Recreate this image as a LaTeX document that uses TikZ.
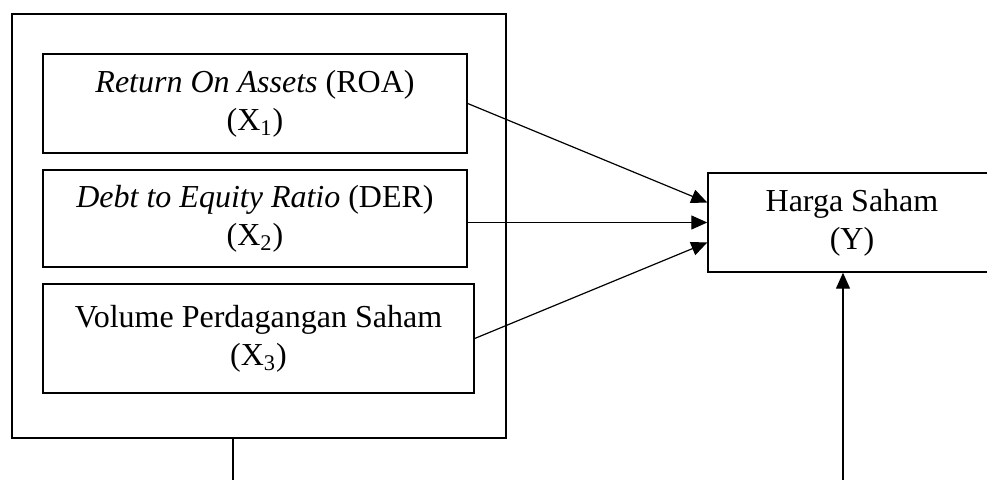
\documentclass[tikz,border=0pt]{standalone}
\usepackage{fontspec}
\setmainfont{Liberation Serif}
\usetikzlibrary{arrows.meta}
\def\boxfont{\fontsize{16}{19}\selectfont}
\tikzstyle{varbox}=[draw,rectangle,line width=0.7pt,align=center,
                  font=\boxfont,inner sep=0pt]
\tikzstyle{groupbox}=[draw,rectangle,line width=0.9pt,inner sep=0pt]
\tikzstyle{pedge}=[line width=0.6pt,-{Triangle[length=8pt,width=7pt]}]
\tikzstyle{pline}=[line width=0.6pt]

\begin{document}
\begin{tikzpicture}[x=0.5pt,y=-0.5pt]
  \useasboundingbox (0,0) rectangle (987,480);
  % Place independent variables
  \node[groupbox,minimum width=247pt,minimum height=212pt] (group) at (259,226) {};
  \node[varbox,minimum width=212pt,minimum height=49.5pt] (roa) at (255,103.5)
    {\textit{Return On Assets} (ROA)\\(X\textsubscript{1})};
  \node[varbox,minimum width=212pt,minimum height=48.5pt] (der) at (255,218.5)
    {\textit{Debt to Equity Ratio} (DER)\\(X\textsubscript{2})};
  \node[varbox,minimum width=215.5pt,minimum height=54.5pt] (vps) at (258.5,338.5)
    {Volume Perdagangan Saham\\(X\textsubscript{3})};

  % Place dependent variable
  \node[varbox,minimum width=144pt,minimum height=49.5pt] (harga) at (852,222.5)
    {Harga Saham\\(Y)};

  \path[pedge] (roa.east) edge ([yshift=10pt]harga.west);
  \path[pedge] (der.east |- harga.west) edge (harga.west);
  \path[pedge] (vps.east) edge ([yshift=-10pt]harga.west);

  % Lines leaving the picture at the bottom
  \coordinate (low1) at (233,480);
  \coordinate (low2) at (843,480);
  \draw[pline] (group.south -| low1) -- (low1);
  \draw[pedge] (low2) -- (low2 |- harga.south);
\end{tikzpicture}
\end{document}
